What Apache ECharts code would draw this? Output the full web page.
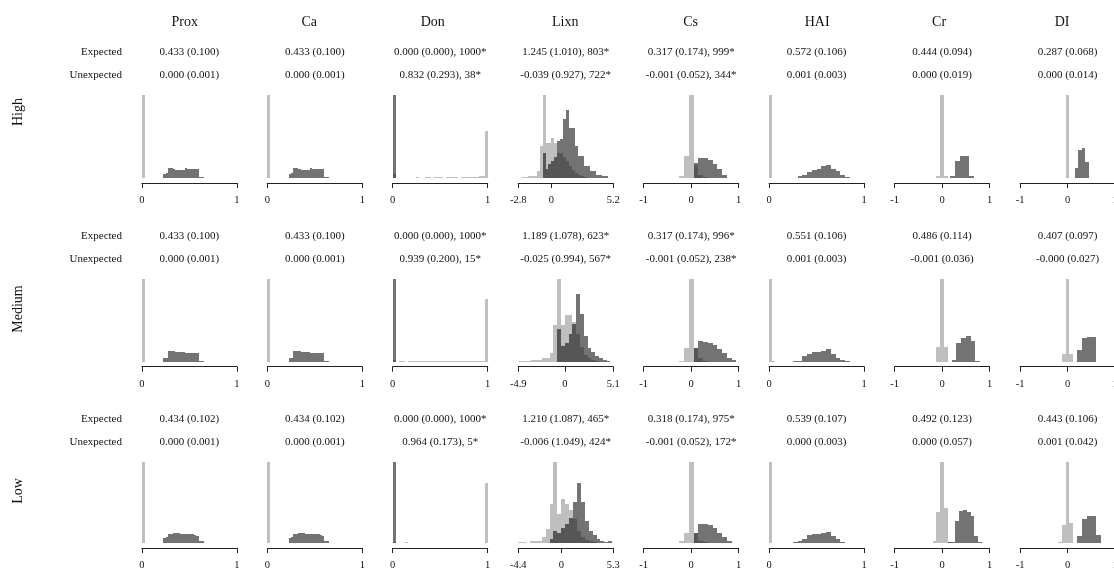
<!DOCTYPE html>
<html>
<head>
<meta charset="utf-8">
<script src="https://cdn.jsdelivr.net/npm/echarts@6/dist/echarts.min.js"></script>
<style>
  html, body { margin: 0; padding: 0; background: #fff; overflow: hidden; }
  /* the rightmost panel runs a little past the page edge */
  #chart { width: 1140px; height: 571px; }
</style>
</head>
<body>
<div id="chart"></div>
<script>
// ---- categories ----
const variables = ['Prox', 'Ca', 'Don', 'Lixn', 'Cs', 'HAI', 'Cr', 'DI'];
const levels = ['High', 'Medium', 'Low'];

// ---- x-axis ranges (min, max) per variable, per level ----
const rangeProx = [[0, 1], [0, 1], [0, 1]];
const rangeCa   = [[0, 1], [0, 1], [0, 1]];
const rangeDon  = [[0, 1], [0, 1], [0, 1]];
const rangeLixn = [[-2.8, 5.2], [-4.9, 5.1], [-4.4, 5.3]];
const rangeCs   = [[-1, 1], [-1, 1], [-1, 1]];
const rangeHAI  = [[0, 1], [0, 1], [0, 1]];
const rangeCr   = [[-1, 1], [-1, 1], [-1, 1]];
const rangeDI   = [[-1, 1], [-1, 1], [-1, 1]];

// ---- summary lines: mean (sd), count* ----
const expectedHigh   = ['0.433 (0.100)', '0.433 (0.100)', '0.000 (0.000), 1000*', '1.245 (1.010), 803*', '0.317 (0.174), 999*', '0.572 (0.106)', '0.444 (0.094)', '0.287 (0.068)'];
const unexpectedHigh = ['0.000 (0.001)', '0.000 (0.001)', '0.832 (0.293), 38*', '-0.039 (0.927), 722*', '-0.001 (0.052), 344*', '0.001 (0.003)', '0.000 (0.019)', '0.000 (0.014)'];
const expectedMedium   = ['0.433 (0.100)', '0.433 (0.100)', '0.000 (0.000), 1000*', '1.189 (1.078), 623*', '0.317 (0.174), 996*', '0.551 (0.106)', '0.486 (0.114)', '0.407 (0.097)'];
const unexpectedMedium = ['0.000 (0.001)', '0.000 (0.001)', '0.939 (0.200), 15*', '-0.025 (0.994), 567*', '-0.001 (0.052), 238*', '0.001 (0.003)', '-0.001 (0.036)', '-0.000 (0.027)'];
const expectedLow   = ['0.434 (0.102)', '0.434 (0.102)', '0.000 (0.000), 1000*', '1.210 (1.087), 465*', '0.318 (0.174), 975*', '0.539 (0.107)', '0.492 (0.123)', '0.443 (0.106)'];
const unexpectedLow = ['0.000 (0.001)', '0.000 (0.001)', '0.964 (0.173), 5*', '-0.006 (1.049), 424*', '-0.001 (0.052), 172*', '0.000 (0.003)', '0.000 (0.057)', '0.001 (0.042)'];

// ---- histograms: first bin start, bin width, bar heights (% of tallest bar in the panel) ----
// Prox
const proxHighExp   = { start: 0.225, width: 0.025, h: [5, 6, 12, 12, 11, 10, 10, 10, 10, 12, 11, 11, 11, 11, 11, 1, 1] };
const proxHighUnexp = { start: 0, width: 0.03, h: [100] };
const proxMedExp    = { start: 0.225, width: 0.025, h: [5, 5, 13, 13, 13, 12, 12, 12, 12, 11, 11, 11, 11, 11, 11, 1, 1] };
const proxMedUnexp  = { start: 0, width: 0.03, h: [100] };
const proxLowExp    = { start: 0.225, width: 0.025, h: [6, 8, 11, 11, 12, 12, 12, 11, 11, 11, 11, 11, 11, 10, 9, 3, 3] };
const proxLowUnexp  = { start: 0, width: 0.03, h: [100] };
// Ca
const caHighExp   = { start: 0.225, width: 0.025, h: [5, 6, 12, 12, 11, 10, 10, 10, 10, 12, 11, 11, 11, 11, 11, 1, 1] };
const caHighUnexp = { start: 0, width: 0.03, h: [100] };
const caMedExp    = { start: 0.225, width: 0.025, h: [5, 5, 13, 13, 13, 12, 12, 12, 12, 11, 11, 11, 11, 11, 11, 1, 1] };
const caMedUnexp  = { start: 0, width: 0.03, h: [100] };
const caLowExp    = { start: 0.225, width: 0.025, h: [6, 8, 11, 11, 12, 12, 12, 11, 11, 11, 11, 11, 11, 10, 9, 3, 3] };
const caLowUnexp  = { start: 0, width: 0.03, h: [100] };
// Don
const donHighExp   = { start: 0, width: 0.03125, h: [100] };
const donHighUnexp = { start: 0, width: 0.03125, h: [5, 0, 0, 0, 0, 0, 0, 0, 1, 0, 0, 1, 1, 0, 1, 1, 1, 0, 1, 1, 1, 1, 0, 1, 1, 1, 1, 1, 1, 2, 2, 57] };
const donMedExp    = { start: 0, width: 0.03125, h: [100] };
const donMedUnexp  = { start: 0, width: 0.03125, h: [2, 0, 1, 1, 0, 1, 1, 1, 1, 1, 1, 1, 1, 1, 1, 1, 1, 1, 1, 1, 1, 1, 1, 1, 1, 1, 1, 1, 1, 1, 1, 76] };
const donLowExp    = { start: 0, width: 0.03125, h: [100] };
const donLowUnexp  = { start: 0, width: 0.03125, h: [1, 0, 0, 0, 1, 0, 0, 0, 0, 0, 0, 0, 0, 0, 0, 0, 0, 0, 0, 0, 0, 0, 0, 0, 0, 0, 0, 0, 0, 0, 0, 74] };
// Lixn
const lixnHighExp   = { start: -0.75, width: 0.25, h: [30, 11, 17, 21, 25, 45, 47, 71, 82, 60, 60, 38, 26, 26, 15, 15, 8, 8, 4, 4, 2, 2] };
const lixnHighUnexp = { start: -2.75, width: 0.25, h: [0, 1, 1, 2, 3, 3, 9, 39, 100, 42, 42, 48, 42, 30, 30, 25, 20, 15, 10, 6, 4, 2, 1] };
const lixnMedExp    = { start: -0.8, width: 0.4, h: [39, 19, 23, 33, 45, 81, 57, 31, 17, 12, 7, 4, 2, 1] };
const lixnMedUnexp  = { start: -4.8, width: 0.4, h: [0.5, 0.5, 0.5, 2, 2, 2, 5, 5, 10, 44, 100, 44, 56, 56, 48, 33, 18, 8, 4, 2, 1] };
const lixnLowExp    = { start: -1.2, width: 0.4, h: [5, 15, 13, 18, 23, 31, 51, 74, 51, 27, 15, 10, 5, 2, 1, 2] };
const lixnLowUnexp  = { start: -4.4, width: 0.4, h: [1, 1, 0, 2, 2, 2, 8, 17, 49, 100, 36, 55, 49, 41, 30, 15, 8, 4, 2, 1] };
// Cs
const csHighExp   = { start: 0.05, width: 0.1, h: [18, 24, 24, 22, 17, 11, 4] };
const csHighUnexp = { start: -0.25, width: 0.1, h: [2, 27, 100, 16, 4, 1] };
const csMedExp    = { start: 0.05, width: 0.1, h: [17, 25, 24, 23, 20, 15, 10, 5, 2] };
const csMedUnexp  = { start: -0.25, width: 0.1, h: [1, 17, 100, 17, 4, 1] };
const csLowExp    = { start: 0.05, width: 0.1, h: [13, 24, 24, 22, 19, 13, 7, 2] };
const csLowUnexp  = { start: -0.25, width: 0.1, h: [2, 12, 100, 13, 3, 1] };
// HAI
const haiHighExp   = { start: 0.3, width: 0.05, h: [2, 4, 7, 10, 11, 14, 16, 11, 8, 4, 1] };
const haiHighUnexp = { start: 0, width: 0.03, h: [100] };
const haiMedExp    = { start: 0.25, width: 0.05, h: [1, 1, 7, 9, 12, 12, 13, 15, 9, 5, 2, 1] };
const haiMedUnexp  = { start: 0, width: 0.03, h: [100, 1] };
const haiLowExp    = { start: 0.25, width: 0.05, h: [1, 3, 5, 10, 11, 11, 13, 14, 9, 5, 1] };
const haiLowUnexp  = { start: 0, width: 0.03, h: [100] };
// Cr
const crHighExp   = { start: 0.175, width: 0.1, h: [2, 21, 26, 27, 2] };
const crHighUnexp = { start: -0.2, width: 0.08, h: [0, 2, 100, 2, 0] };
const crMedExp    = { start: 0.2, width: 0.1, h: [2, 23, 28, 31, 25, 1] };
const crMedUnexp  = { start: -0.2, width: 0.08, h: [0, 18, 100, 18, 0] };
const crLowExp    = { start: 0.12, width: 0.08, h: [1, 1, 27, 40, 41, 39, 34, 9, 1] };
const crLowUnexp  = { start: -0.2, width: 0.08, h: [2, 38, 100, 43, 1] };
// DI
const diHighExp   = { start: 0.15, width: 0.075, h: [12, 34, 36, 19] };
const diHighUnexp = { start: -0.04, width: 0.08, h: [100] };
const diMedExp    = { start: 0.2, width: 0.1, h: [14, 28, 30, 30] };
const diMedUnexp  = { start: -0.12, width: 0.08, h: [9, 100, 9] };
const diLowExp    = { start: 0.2, width: 0.1, h: [9, 30, 33, 34, 10] };
const diLowUnexp  = { start: -0.2, width: 0.08, h: [1, 22, 100, 25] };

// ---- lookup tables assembled from the arrays above ----
const ranges = [rangeProx, rangeCa, rangeDon, rangeLixn, rangeCs, rangeHAI, rangeCr, rangeDI];
const expectedLines = [expectedHigh, expectedMedium, expectedLow];
const unexpectedLines = [unexpectedHigh, unexpectedMedium, unexpectedLow];
const histExp = [
  [proxHighExp, caHighExp, donHighExp, lixnHighExp, csHighExp, haiHighExp, crHighExp, diHighExp],
  [proxMedExp, caMedExp, donMedExp, lixnMedExp, csMedExp, haiMedExp, crMedExp, diMedExp],
  [proxLowExp, caLowExp, donLowExp, lixnLowExp, csLowExp, haiLowExp, crLowExp, diLowExp]
];
const histUnexp = [
  [proxHighUnexp, caHighUnexp, donHighUnexp, lixnHighUnexp, csHighUnexp, haiHighUnexp, crHighUnexp, diHighUnexp],
  [proxMedUnexp, caMedUnexp, donMedUnexp, lixnMedUnexp, csMedUnexp, haiMedUnexp, crMedUnexp, diMedUnexp],
  [proxLowUnexp, caLowUnexp, donLowUnexp, lixnLowUnexp, csLowUnexp, haiLowUnexp, crLowUnexp, diLowUnexp]
];

// ---- layout ----
const FONT = '"Liberation Serif", "Times New Roman", serif';
const INK = '#111';
const COL_X0 = 141.8, COL_STEP = 125.47, PANEL_W = 95;
const ROW_TOP = 95, ROW_STEP = 183.7, PANEL_H = 83;
const EXP_Y = 52, UNEXP_Y = 75, TITLE_Y = 22;
const TITLE_SHIFT = [-4.5, -5.5, -7.5, -0.5, -0.5, 0.5, -3, -5.5];
const ROW_LABEL_Y = [112, 309, 491];
const UNEXP_FILL = 'rgba(0,0,0,0.25)';
const EXP_FILL = 'rgba(0,0,0,0.55)';

function toBins(hist) {
  return hist.h.map((v, i) => [hist.start + i * hist.width, hist.start + (i + 1) * hist.width, v]);
}

// Each bin is a rectangle placed through the panel's own x/y scales;
// edges are snapped to whole pixels so adjacent bins join without seams.
function binRenderer(fill) {
  return function (params, api) {
    const x0 = api.value(0), x1 = api.value(1), h = api.value(2);
    if (!h) return null;
    const p0 = api.coord([x0, 0]);
    const p1 = api.coord([x1, h]);
    const left = Math.round(p0[0]), right = Math.round(p1[0]);
    const bottom = Math.round(p0[1]);
    let topY = Math.round(p1[1]);
    if (topY >= bottom) topY = bottom - 1;
    return {
      type: 'rect',
      shape: { x: left, y: topY, width: Math.max(1, right - left), height: bottom - topY },
      style: { fill: fill }
    };
  };
}

function fmt(v) {
  return String(Math.round(v * 10) / 10);
}

const grids = [], xAxes = [], yAxes = [], series = [], graphics = [];

levels.forEach((level, r) => {
  variables.forEach((name, c) => {
    const idx = r * variables.length + c;
    const [mn, mx] = ranges[c][r];
    const left = COL_X0 + c * COL_STEP;
    const top = ROW_TOP + r * ROW_STEP;
    grids.push({ left: left, top: top, width: PANEL_W, height: PANEL_H });
    const ticks = (mn < 0 && mx > 0) ? [mn, 0, mx] : [mn, mx];
    xAxes.push({
      gridIndex: idx, type: 'value', min: mn, max: mx, offset: 5,
      axisLine: { show: true, onZero: false, lineStyle: { color: '#222', width: 1 } },
      axisTick: { show: true, customValues: ticks, length: 5, lineStyle: { color: '#222', width: 1 } },
      axisLabel: { show: true, customValues: ticks, formatter: fmt, margin: 12,
        fontFamily: FONT, fontSize: 10.5, color: INK },
      splitLine: { show: false }
    });
    const eb = toBins(histExp[r][c]);
    const ub = toBins(histUnexp[r][c]);
    const ymax = Math.max(...eb.map(d => d[2]), ...ub.map(d => d[2]));
    yAxes.push({ gridIndex: idx, type: 'value', min: 0, max: ymax, show: false });
    series.push({
      type: 'custom', name: level + ' ' + name + ' Unexpected', xAxisIndex: idx, yAxisIndex: idx,
      renderItem: binRenderer(UNEXP_FILL), data: ub, silent: true, clip: false
    });
    series.push({
      type: 'custom', name: level + ' ' + name + ' Expected', xAxisIndex: idx, yAxisIndex: idx,
      renderItem: binRenderer(EXP_FILL), data: eb, silent: true, clip: false
    });
    const cx = left + PANEL_W / 2;
    graphics.push({ type: 'text', x: cx, y: EXP_Y + r * ROW_STEP,
      style: { text: expectedLines[r][c], font: '11px ' + FONT, fill: INK, align: 'center', verticalAlign: 'middle' } });
    graphics.push({ type: 'text', x: cx, y: UNEXP_Y + r * ROW_STEP,
      style: { text: unexpectedLines[r][c], font: '11px ' + FONT, fill: INK, align: 'center', verticalAlign: 'middle' } });
    if (r === 0) {
      graphics.push({ type: 'text', x: cx + TITLE_SHIFT[c], y: TITLE_Y,
        style: { text: name, font: '14px ' + FONT, fill: INK, align: 'center', verticalAlign: 'middle' } });
    }
  });
  graphics.push({ type: 'text', x: 122, y: EXP_Y + r * ROW_STEP,
    style: { text: 'Expected', font: '11px ' + FONT, fill: INK, align: 'right', verticalAlign: 'middle' } });
  graphics.push({ type: 'text', x: 122, y: UNEXP_Y + r * ROW_STEP,
    style: { text: 'Unexpected', font: '11px ' + FONT, fill: INK, align: 'right', verticalAlign: 'middle' } });
  graphics.push({ type: 'text', x: 18, y: ROW_LABEL_Y[r], rotation: Math.PI / 2,
    style: { text: level, font: '14px ' + FONT, fill: INK, align: 'center', verticalAlign: 'middle' } });
});

const chart = echarts.init(document.getElementById('chart'), null, { renderer: 'canvas' });
chart.setOption({
  backgroundColor: '#fff',
  animation: false,
  grid: grids,
  xAxis: xAxes,
  yAxis: yAxes,
  series: series,
  graphic: { elements: graphics }
});
</script>
</body>
</html>
